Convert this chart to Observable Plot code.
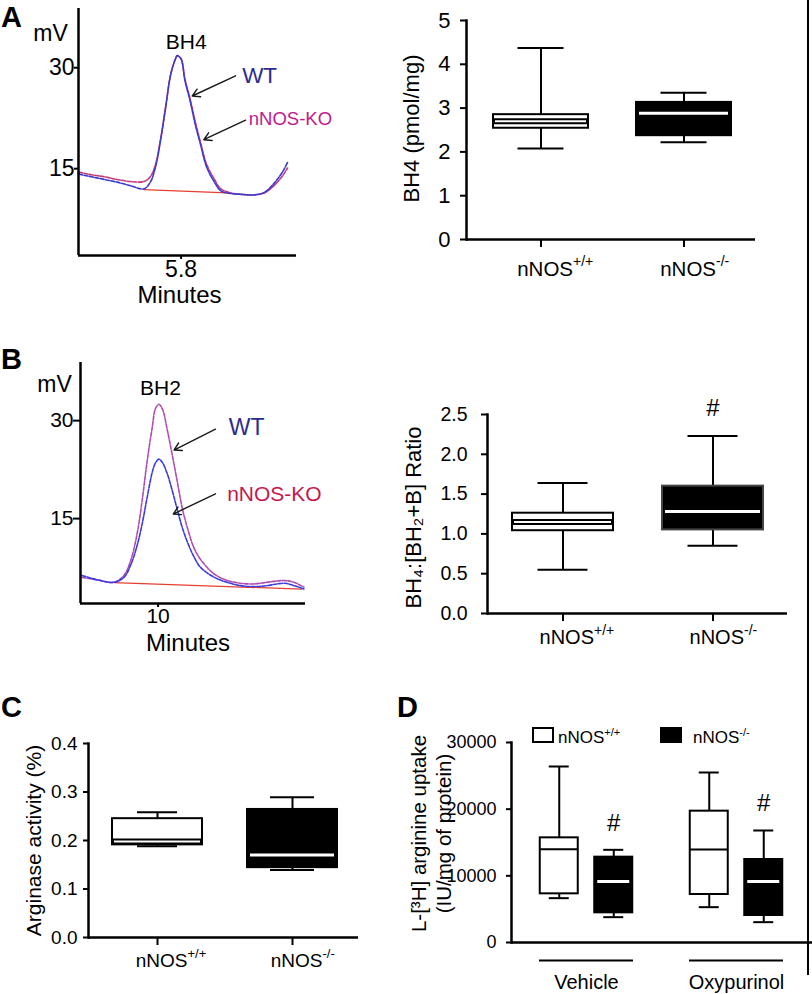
<!DOCTYPE html>
<html><head><meta charset="utf-8">
<script src="https://cdn.jsdelivr.net/npm/d3@7"></script>
<script src="https://cdn.jsdelivr.net/npm/@observablehq/plot@0.6"></script>
<style>
html,body{margin:0;padding:0;background:#fff;}
#fig{position:relative;width:812px;height:994px;overflow:hidden;font-family:"Liberation Sans",Arial,Helvetica,sans-serif;}
#fig .p{position:absolute;}
#fig svg{overflow:visible;background:transparent;}
.leg{position:absolute;font-size:17px;line-height:1;color:#000;white-space:nowrap;}
.leg sup{font-size:11px;vertical-align:7px;}
.sw{position:absolute;box-sizing:border-box;border:2px solid #000;}
</style></head><body><div id="fig"></div>
<script>
// ---------------- DATA ----------------
// Panel A chromatogram (BH4), minutes vs mV
const chromA_minutes = [5.00,5.10,5.20,5.30,5.40,5.51,5.56,5.60,5.64,5.68,5.72,5.76,5.77,5.80,5.83,5.87,5.91,5.95,6.00,6.06,6.11,6.19,6.26,6.37,6.45,6.52,6.59,6.63];
const chromA_WT = [14.2,13.8,13.4,13.0,12.5,12.0,13.0,15.2,19.2,24.1,29.1,31.5,31.8,31.3,28.1,25.1,21.6,18.7,15.2,13.0,11.7,11.3,11.2,11.1,11.5,12.7,14.5,15.9];
const chromA_KO = [14.5,14.1,13.8,13.4,13.1,13.1,13.8,15.6,19.4,24.3,29.1,31.5,31.8,31.3,28.3,25.4,22.0,19.0,15.6,13.4,12.0,11.4,11.2,11.1,11.4,12.4,13.9,15.1];
const chromA_baselineMin = [5.51, 6.16];
const chromA_baselineMV = [11.9, 11.4];
const chromA_xTicks = [5.8];
const chromA_yTicks = [15, 30];
const chromA_peak = "BH4";
const chromA_labels = ["WT", "nNOS-KO"];
const chromA_labelMin = [6.276, 6.328];
const chromA_labelMV = [28.8, 22.4];
const chromA_arrowFromMin = [6.225, 6.303];
const chromA_arrowFromMV = [28.8, 22.2];
const chromA_arrowToMin = [5.887, 5.977];
const chromA_arrowToMV = [25.8, 19.3];

// Panel B chromatogram (BH2)
const chromB_minutes = [8.04,8.45,8.86,9.12,9.30,9.46,9.59,9.72,9.85,9.93,10.02,10.11,10.24,10.36,10.49,10.62,10.75,10.92,11.10,11.45,11.80,12.12,12.47,12.81,13.07,13.28,13.50,13.76];
const chromB_WT = [6.0,5.6,5.25,6.3,8.7,12.7,17.8,23.9,29.0,31.8,32.5,31.8,28.5,24.9,20.8,16.7,13.7,10.6,8.7,6.5,5.5,5.1,5.0,5.25,5.45,5.5,5.25,4.5];
const chromB_KO = [6.3,5.6,5.25,6.0,8.0,10.9,14.2,18.3,22.1,23.5,24.1,23.6,21.8,19.4,16.5,13.7,11.5,9.2,7.5,6.0,5.2,4.74,4.6,4.74,5.0,5.1,4.74,4.23];
const chromB_baselineMin = [8.86, 13.7];
const chromB_baselineMV = [5.2, 4.2];
const chromB_xTicks = [10];
const chromB_yTicks = [15, 30];
const chromB_peak = "BH2";
const chromB_labels = ["WT", "nNOS-KO"];
const chromB_labelMin = [11.82, 11.78];
const chromB_labelMV = [29.0, 18.8];
const chromB_arrowFromMin = [11.48, 11.48];
const chromB_arrowFromMV = [28.7, 18.8];
const chromB_arrowToMin = [10.41, 10.39];
const chromB_arrowToMV = [25.5, 15.7];

// Box plots: genotypes
const genotypes = ["nNOS+/+", "nNOS-/-"];

// Panel A: BH4 (pmol/mg)
const bh4Min = [2.08, 2.22];
const bh4Q1 = [2.54, 2.37];
const bh4Med = [2.70, 2.88];
const bh4Q3 = [2.85, 3.13];
const bh4Max = [4.37, 3.35];
const bh4Ticks = [0, 1, 2, 3, 4, 5];

// Panel B: BH4:[BH2+B] ratio
const ratioMin = [0.55, 0.85];
const ratioQ1 = [1.04, 1.05];
const ratioMed = [1.15, 1.28];
const ratioQ3 = [1.26, 1.60];
const ratioMax = [1.64, 2.23];
const ratioSig = [false, true];
const ratioTicks = [0, 0.5, 1.0, 1.5, 2.0, 2.5];

// Panel C: Arginase activity (%)
const argMin = [0.188, 0.139];
const argQ1 = [0.191, 0.144];
const argMed = [0.198, 0.170];
const argQ3 = [0.245, 0.264];
const argMax = [0.258, 0.289];
const argTicks = [0, 0.1, 0.2, 0.3, 0.4];

// Panel D: L-[3H] arginine uptake
const treatments = ["Vehicle", "Oxypurinol"];
const upWTMin = [6650, 5300];
const upWTQ1 = [7300, 7200];
const upWTMed = [14000, 13950];
const upWTQ3 = [15700, 19700];
const upWTMax = [26400, 25500];
const upKOMin = [3800, 3050];
const upKOQ1 = [4450, 4050];
const upKOMed = [9150, 9150];
const upKOQ3 = [12800, 12450];
const upKOMax = [13900, 16800];
const upKOSig = [true, true];
const upTicks = [0, 10000, 20000, 30000];

// ---------------- HELPERS ----------------
const FONT = '"Liberation Sans", Arial, Helvetica, sans-serif';
const fig = document.getElementById("fig");
function place(node, left, top, width) {
  const div = document.createElement("div");
  div.className = "p";
  div.style.left = left + "px"; div.style.top = top + "px"; div.style.width = width + "px";
  div.appendChild(node); fig.appendChild(div);
}
function bandOpts(W, c1, c2, bw, domain) {
  const step = c2 - c1, pi = 1 - bw / step;
  const po = Math.max(0, (W / step - 2 + pi) / 2);
  const extra = W - step - bw, start = c1 - bw / 2;
  return {type: "band", domain, paddingInner: pi, paddingOuter: po,
          align: Math.min(1, Math.max(0, start / extra)), label: null};
}
function boxRows(keys, mn, q1, md, q3, mx, sig) {
  return keys.map((k, i) => ({k, min: mn[i], q1: q1[i], med: md[i], q3: q3[i], max: mx[i], sig: sig ? sig[i] : false}));
}
function boxMarks(rows, {filled, capInset, dx = 0, median = "double", boxStroke = "#000"}) {
  const m = [
    Plot.ruleX(rows, {x: "k", y1: "min", y2: "max", stroke: "#000", strokeWidth: 2, dx}),
    Plot.tickY(rows, {x: "k", y: "min", insetLeft: capInset, insetRight: capInset, stroke: "#000", strokeWidth: 2, dx}),
    Plot.tickY(rows, {x: "k", y: "max", insetLeft: capInset, insetRight: capInset, stroke: "#000", strokeWidth: 2, dx}),
    Plot.barY(rows, {x: "k", y1: "q1", y2: "q3", fill: filled ? "#000" : "#fff", stroke: boxStroke, strokeWidth: 2, dx})
  ];
  if (filled) {
    m.push(Plot.tickY(rows, {x: "k", y: "med", stroke: "#fff", strokeWidth: 3, insetLeft: 3, insetRight: 3, dx}));
  } else if (median === "double") {
    m.push(Plot.tickY(rows, {x: "k", y: "med", stroke: "#000", strokeWidth: 6, dx}));
    m.push(Plot.tickY(rows, {x: "k", y: "med", stroke: "#fff", strokeWidth: 2, insetLeft: 2, insetRight: 2, dx}));
  } else {
    m.push(Plot.tickY(rows, {x: "k", y: "med", stroke: "#000", strokeWidth: 2, dx}));
  }
  return m;
}
function genoLabels(keys, {dx, dy, dySup, size, supSize}) {
  return [
    Plot.text(keys, {x: d => d, text: d => d.slice(0, 4), frameAnchor: "bottom", textAnchor: "end", lineAnchor: "middle", dx, dy, fontSize: size}),
    Plot.text(keys, {x: d => d, text: d => d.slice(4), frameAnchor: "bottom", textAnchor: "start", lineAnchor: "middle", dx, dy: dySup, fontSize: supSize})
  ];
}
function yLabel(text, {dx, dy = 0, size}) {
  return Plot.text([text], {text: d => d, frameAnchor: "left", rotate: -90, textAnchor: "middle", lineAnchor: "middle", dx, dy, fontSize: size, lineHeight: 1.2});
}
function letter(t, dx, dy) {
  return Plot.text([t], {text: d => d, frameAnchor: "top-left", textAnchor: "middle", lineAnchor: "middle", dx, dy, fontSize: 29, fontWeight: "bold"});
}
function chrom(o) {
  const rows = o.minutes.map((m, i) => ({m, wt: o.wt[i], ko: o.ko[i]}));
  const base = o.baseMin.map((m, i) => ({m, v: o.baseMV[i]}));
  const arrows = o.aFromMin.map((m, i) => ({x1: m, y1: o.aFromMV[i], x2: o.aToMin[i], y2: o.aToMV[i]}));
  const labs = o.labels.map((t, i) => ({t, m: o.labMin[i], v: o.labMV[i]}));
  return Plot.plot({
    width: o.width, height: o.height,
    marginLeft: o.ml, marginRight: o.mr, marginTop: o.mt, marginBottom: o.mb,
    x: {domain: o.xDomain, label: null},
    y: {domain: o.yDomain, label: null},
    style: {fontFamily: FONT, fontSize: o.tickSize + "px", overflow: "visible", background: "transparent"},
    marks: [
      Plot.line(base, {x: "m", y: "v", stroke: "#e5402f", strokeWidth: 1.2}),
      Plot.line(rows, {x: "m", y: o.firstKey, stroke: o.firstColor, strokeWidth: 1.6, strokeDasharray: "4,1.5", curve: "catmull-rom"}),
      Plot.line(rows, {x: "m", y: o.secondKey, stroke: o.secondColor, strokeWidth: 1.6, strokeDasharray: "4,1.5", curve: "catmull-rom"}),
      Plot.ruleX([o.xDomain[0]], {strokeWidth: 2.5}),
      Plot.ruleY([o.yDomain[0]], {strokeWidth: 2.5}),
      Plot.axisY({ticks: o.yTicks, tickSize: o.yTickSize, tickPadding: 0, strokeWidth: 2, fontSize: o.tickSize, label: null}),
      Plot.axisX({ticks: o.xTicks, tickSize: 4, tickPadding: 1, strokeWidth: 2, fontSize: o.tickSize, label: null, tickFormat: o.xFormat}),
      Plot.text(["Minutes"], {text: d => d, frameAnchor: "bottom", textAnchor: "middle", lineAnchor: "middle", dx: o.minDx, dy: 40, fontSize: 24}),
      Plot.text(["mV"], {text: d => d, frameAnchor: "top-left", textAnchor: "middle", lineAnchor: "middle", dx: o.mvDx, dy: o.mvDy, fontSize: 23}),
      letter(o.letter, o.letDx, o.letDy),
      Plot.text([o.peak], {text: d => d, x: () => o.peakAt[0], y: () => o.peakAt[1], fontSize: 21}),
      Plot.arrow(arrows, {x1: "x1", y1: "y1", x2: "x2", y2: "y2", stroke: "#1a1a1a", strokeWidth: 1.4, headLength: 9}),
      Plot.text(labs.slice(0, 1), {x: "m", y: "v", text: "t", textAnchor: "start", fill: "#2c2c8e", fontSize: o.wtSize}),
      Plot.text(labs.slice(1), {x: "m", y: "v", text: "t", textAnchor: "start", fill: o.koColor, fontSize: o.koSize})
    ]
  });
}

// ---------------- PANEL A chromatogram ----------------
place(chrom({
  width: 330, height: 320, ml: 78, mr: 34, mt: 8, mb: 65,
  xDomain: [5.0, 6.7], yDomain: [2.1, 38.8],
  minutes: chromA_minutes, wt: chromA_WT, ko: chromA_KO,
  firstKey: "ko", firstColor: "#c0397a", secondKey: "wt", secondColor: "#3a3ad0",
  baseMin: chromA_baselineMin, baseMV: chromA_baselineMV,
  aFromMin: chromA_arrowFromMin, aFromMV: chromA_arrowFromMV, aToMin: chromA_arrowToMin, aToMV: chromA_arrowToMV,
  labels: chromA_labels, labMin: chromA_labelMin, labMV: chromA_labelMV,
  xTicks: chromA_xTicks, yTicks: chromA_yTicks, xFormat: d3.format(".1f"),
  tickSize: 23, yTickSize: 4, minDx: -8, mvDx: -28, mvDy: 25,
  letter: "A", letDx: -67, letDy: 9,
  peak: chromA_peak, peakAt: [5.84, 33.8],
  wtSize: 22.5, koSize: 18.5, koColor: "#c2188c"
}), 0, 0, 330);

// ---------------- PANEL B chromatogram ----------------
place(chrom({
  width: 330, height: 330, ml: 80, mr: 25, mt: 32, mb: 57,
  xDomain: [8.0, 13.8], yDomain: [2.0, 38.9],
  minutes: chromB_minutes, wt: chromB_WT, ko: chromB_KO,
  firstKey: "wt", firstColor: "#b04cb4", secondKey: "ko", secondColor: "#3b3be0",
  baseMin: chromB_baselineMin, baseMV: chromB_baselineMV,
  aFromMin: chromB_arrowFromMin, aFromMV: chromB_arrowFromMV, aToMin: chromB_arrowToMin, aToMV: chromB_arrowToMV,
  labels: chromB_labels, labMin: chromB_labelMin, labMV: chromB_labelMV,
  xTicks: chromB_xTicks, yTicks: chromB_yTicks, xFormat: d3.format("d"),
  tickSize: 21, yTickSize: 7, minDx: -5, mvDx: -26, mvDy: 22,
  letter: "B", letDx: -69, letDy: -3,
  peak: chromB_peak, peakAt: [10.06, 34.9],
  wtSize: 23, koSize: 21, koColor: "#c4174e"
}), 0, 330, 330);

// ---------------- PANEL A box plot ----------------
{
  const rows = boxRows(genotypes, bh4Min, bh4Q1, bh4Med, bh4Q3, bh4Max);
  const W = 472 - 126 - 57;
  place(Plot.plot({
    width: 472, height: 320, marginLeft: 126, marginRight: 57, marginTop: 20, marginBottom: 81,
    x: bandOpts(W, 74, 217, 95, genotypes),
    y: {domain: [0, 5], label: null},
    style: {fontFamily: FONT, fontSize: "22px", overflow: "visible", background: "transparent"},
    marks: [
      ...boxMarks(rows.slice(0, 1), {filled: false, capInset: 24.5}),
      ...boxMarks(rows.slice(1), {filled: true, capInset: 24.5}),
      Plot.frame({anchor: "left", strokeWidth: 2.5}),
      Plot.ruleY([0], {strokeWidth: 2.5}),
      Plot.axisY({ticks: bh4Ticks, tickSize: 6, tickPadding: 10, strokeWidth: 2, fontSize: 22, label: null, tickFormat: d3.format("d")}),
      Plot.axisX({tickSize: 8, strokeWidth: 2, tickFormat: () => "", label: null}),
      ...genoLabels(genotypes, {dx: 32, dy: 29.5, dySup: 22, size: 20.5, supSize: 14}),
      yLabel("BH4 (pmol/mg)", {dx: -56, dy: -1.5, size: 22})
    ]
  }), 340, 0, 472);
}

// ---------------- PANEL B box plot ----------------
{
  const rows = boxRows(genotypes, ratioMin, ratioQ1, ratioMed, ratioQ3, ratioMax, ratioSig);
  const W = 472 - 147 - 25;
  place(Plot.plot({
    width: 472, height: 330, marginLeft: 147, marginRight: 25, marginTop: 84, marginBottom: 47,
    x: bandOpts(W, 75, 225, 101, genotypes),
    y: {domain: [0, 2.5], label: null},
    style: {fontFamily: FONT, fontSize: "19.5px", overflow: "visible", background: "transparent"},
    marks: [
      ...boxMarks(rows.slice(0, 1), {filled: false, capInset: 25.5}),
      ...boxMarks(rows.slice(1), {filled: true, capInset: 25.5, boxStroke: "#444"}),
      Plot.frame({anchor: "left", strokeWidth: 2.5}),
      Plot.ruleY([0], {strokeWidth: 2.5}),
      Plot.axisY({ticks: ratioTicks, tickSize: 6, tickPadding: 14, strokeWidth: 2, fontSize: 19.5, label: null, tickFormat: d3.format(".1f")}),
      Plot.axisX({tickSize: 8, strokeWidth: 2, tickFormat: () => "", label: null}),
      Plot.text(rows.filter(d => d.sig), {x: "k", y: "max", text: () => "#", dy: -28, fontSize: 24}),
      ...genoLabels(genotypes, {dx: 31, dy: 24.5, dySup: 17, size: 20, supSize: 14}),
      yLabel("BH\u2084:[BH\u2082+B] Ratio", {dx: -75, dy: 3.5, size: 22})
    ]
  }), 340, 330, 472);
}

// ---------------- PANEL C box plot ----------------
{
  const rows = boxRows(genotypes, argMin, argQ1, argMed, argQ3, argMax);
  const W = 400 - 88 - 42;
  place(Plot.plot({
    width: 400, height: 334, marginLeft: 88, marginRight: 42, marginTop: 83, marginBottom: 57,
    x: bandOpts(W, 69, 204, 90, genotypes),
    y: {domain: [0, 0.4], label: null},
    style: {fontFamily: FONT, fontSize: "19px", overflow: "visible", background: "transparent"},
    marks: [
      ...boxMarks(rows.slice(0, 1), {filled: false, capInset: 25}),
      ...boxMarks(rows.slice(1), {filled: true, capInset: 23}),
      Plot.frame({anchor: "left", strokeWidth: 2.5}),
      Plot.ruleY([0], {strokeWidth: 2.5}),
      Plot.axisY({ticks: argTicks, tickSize: 5, tickPadding: 6, strokeWidth: 2, fontSize: 19, label: null, tickFormat: d3.format(".1f")}),
      Plot.axisX({tickSize: 8, strokeWidth: 2, tickFormat: () => "", label: null}),
      ...genoLabels(genotypes, {dx: 30, dy: 23, dySup: 16, size: 19, supSize: 13}),
      yLabel("Arginase activity (%)", {dx: -56, size: 21}),
      letter("C", -77, -36)
    ]
  }), 0, 660, 400);
}

// ---------------- PANEL D box plot ----------------
{
  const wt = boxRows(treatments, upWTMin, upWTQ1, upWTMed, upWTQ3, upWTMax);
  const ko = boxRows(treatments, upKOMin, upKOQ1, upKOMed, upKOQ3, upKOMax, upKOSig);
  const W = 412 - 111 - 0;
  place(Plot.plot({
    width: 412, height: 334, marginLeft: 111, marginRight: 0, marginTop: 82, marginBottom: 52,
    x: {...bandOpts(W, 74.75, 224.75, 38, treatments), axis: null},
    y: {domain: [0, 30000], label: null},
    style: {fontFamily: FONT, fontSize: "18px", overflow: "visible", background: "transparent"},
    marks: [
      ...boxMarks(wt, {filled: false, capInset: 9, dx: -27.25, median: "single"}),
      ...boxMarks(ko, {filled: true, capInset: 9, dx: 27.25}),
      Plot.frame({anchor: "left", strokeWidth: 2.5}),
      Plot.ruleY([0], {strokeWidth: 2.5}),
      Plot.axisY({ticks: upTicks, tickSize: 5, tickPadding: 10, strokeWidth: 2, fontSize: 18, label: null, tickFormat: d3.format("d")}),
      Plot.text(ko.filter(d => d.sig), {x: "k", y: "max", text: () => "#", dx: 27.25, dy: -27, fontSize: 24}),
      Plot.tickY(treatments, {x: d => d, y: () => 0, dy: 18, insetLeft: -28, insetRight: -28, strokeWidth: 2}),
      Plot.text(treatments, {x: d => d, text: d => d, frameAnchor: "bottom", textAnchor: "middle", lineAnchor: "middle", dy: 40, fontSize: 20}),
      yLabel("L-[\u00B3H] arginine uptake\n(IU/mg of protein)", {dx: -81, dy: -9, size: 20.5}),
      letter("D", -104, -35)
    ]
  }), 400, 660, 412);
}

// ---------------- Legend for D ----------------
{
  const fills = ["#fff", "#000"];
  const swLeft = [532, 660], txtLeft = [558, 693];
  genotypes.forEach((g, i) => {
    const sw = document.createElement("div");
    sw.className = "sw";
    sw.style.left = swLeft[i] + "px"; sw.style.top = "727px";
    sw.style.width = "22px"; sw.style.height = "16px"; sw.style.background = fills[i];
    fig.appendChild(sw);
    const t = document.createElement("div");
    t.className = "leg";
    t.style.left = txtLeft[i] + "px"; t.style.top = "727px";
    t.innerHTML = g.slice(0, 4) + "<sup>" + g.slice(4) + "</sup>";
    fig.appendChild(t);
  });
  const border = document.createElement("div");
  border.style.cssText = "position:absolute;left:807px;top:0;width:2px;height:975px;background:#000;";
  fig.appendChild(border);
}
</script></body></html>
